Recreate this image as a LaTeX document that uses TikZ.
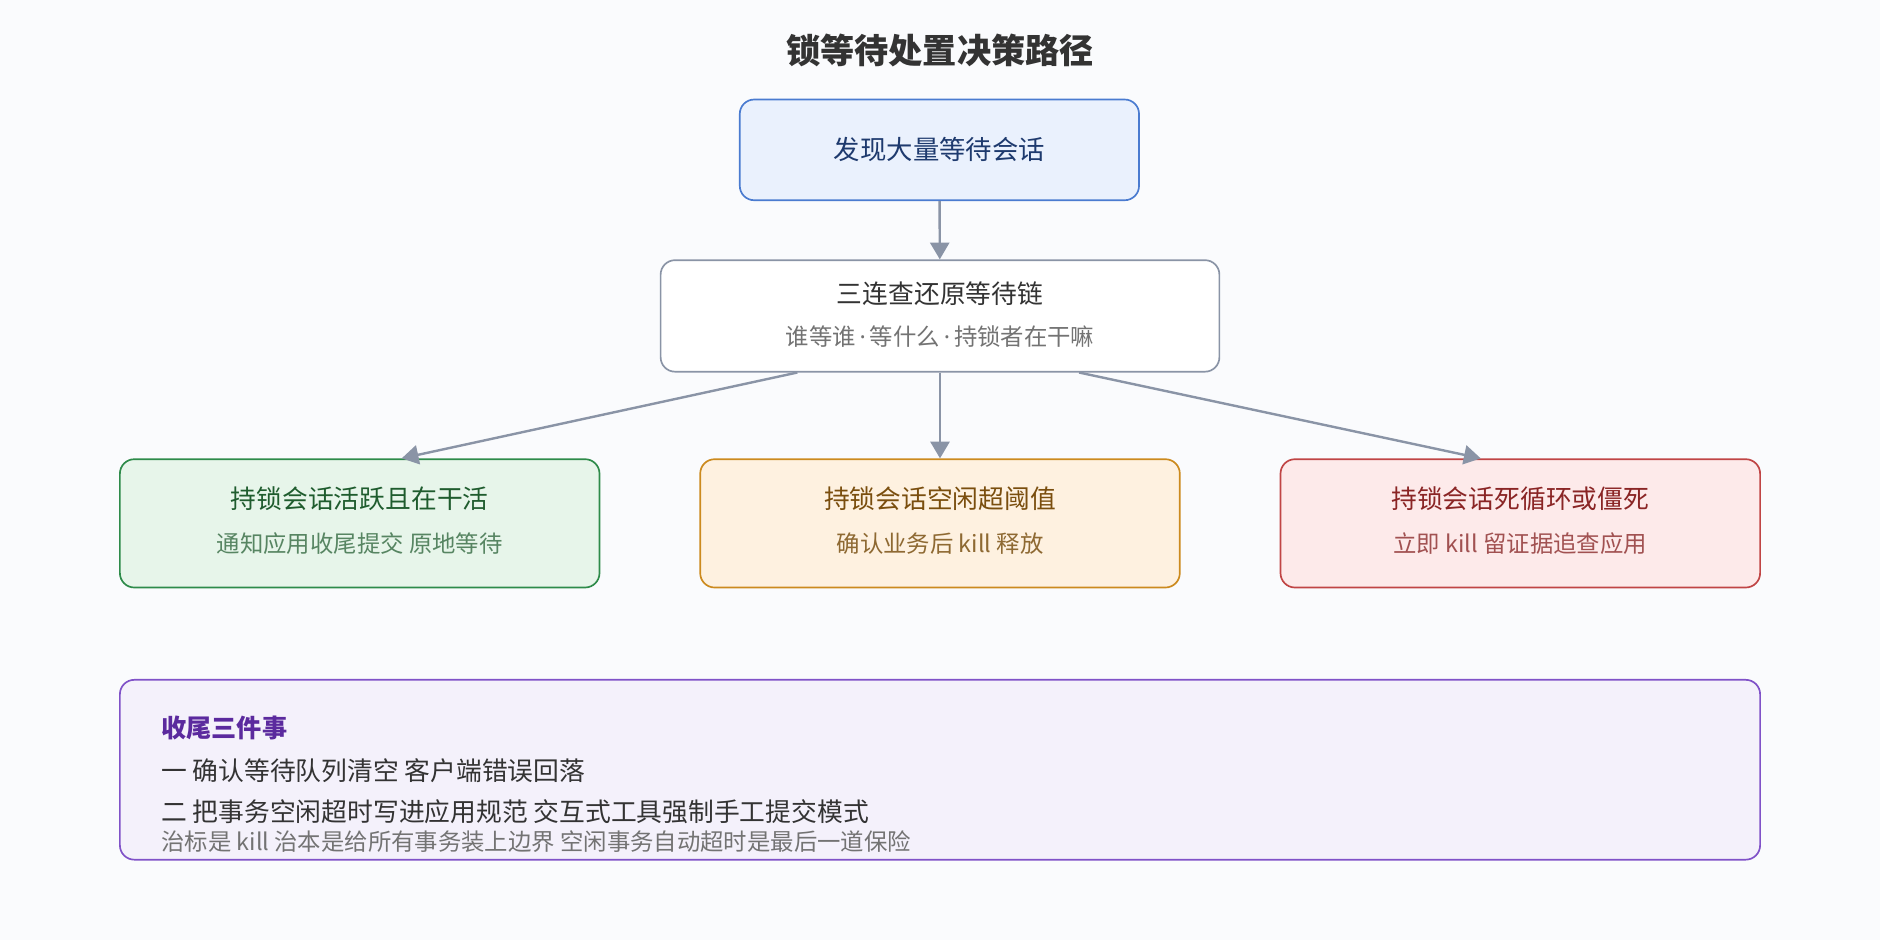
\documentclass[tikz,border=0pt]{standalone}
\usepackage{fontspec}
\setmainfont{Noto Sans CJK SC}
\newfontfamily\latinfont{Noto Sans}
\usetikzlibrary{arrows.meta,calc}
\definecolor{bgc}{HTML}{FAFBFD}
\definecolor{linec}{HTML}{8A94A6}
\definecolor{blueD}{HTML}{4A7BD0}
\definecolor{blueF}{HTML}{EAF1FD}
\definecolor{blueT}{HTML}{1E3A6E}
\definecolor{greenD}{HTML}{2E8B4A}
\definecolor{greenF}{HTML}{E7F5EA}
\definecolor{greenT}{HTML}{1F5C2E}
\definecolor{orangeD}{HTML}{CC8A1E}
\definecolor{orangeF}{HTML}{FEF1E0}
\definecolor{orangeT}{HTML}{7A4E0E}
\definecolor{redD}{HTML}{C04545}
\definecolor{redF}{HTML}{FDEAEA}
\definecolor{redT}{HTML}{8A2525}
\definecolor{violetD}{HTML}{8052C8}
\definecolor{violetF}{HTML}{F4F1FB}
\definecolor{violetT}{HTML}{5B2A9E}
\tikzset{
  box/.style={draw, rounded corners=12pt, line width=1.4pt, align=center, inner sep=0pt},
  head/.style={font=\fontsize{21.5}{25}\selectfont},
  sub/.style={font=\fontsize{19.5}{23}\selectfont, text=black!55},
  flow/.style={draw=linec, line width=2pt, -{Triangle[length=14pt,width=16pt]}}
}
\newcommand{\sep}{{\latinfont\,·\,}}
\begin{document}
\begin{tikzpicture}[x=1pt,y=-1pt]
	\fill[bgc] (0,0) rectangle (1568,784);
	\useasboundingbox (0,0) rectangle (1568,784);
	\node[font=\bfseries\fontsize{28.5}{32}\selectfont, text=black!80] (title) at (784,42) {锁等待处置决策路径};
	
	\node[box, draw=blueD, fill=blueF, minimum width=333pt, minimum height=84pt, text=blueT, font=\fontsize{22}{26}\selectfont] (found) at (783.5,125) {发现大量等待会话};
	
	\node[box, draw=linec, fill=white, minimum width=466pt, minimum height=93pt] (chain) at (784,263.5) {};
	\node[head, text=black!80] (chainT) at (784,245) {三连查还原等待链};
	\node[sub] (chainS) at (784,281) {谁等谁\sep 等什么\sep 持锁者在干嘛};
	
	% three outcomes
	\node[box, draw=greenD, fill=greenF, minimum width=400pt, minimum height=107pt] (busy) at (300,436.5) {};
	\node[head, text=greenT] at (300,416) {持锁会话活跃且在干活};
	\node[sub, text=greenT!75] at (300,453) {通知应用收尾提交 原地等待};
	
	\node[box, draw=orangeD, fill=orangeF, minimum width=400pt, minimum height=107pt] (idle) at (784,436.5) {};
	\node[head, text=orangeT] at (784,416) {持锁会话空闲超阈值};
	\node[sub, text=orangeT!85] at (784,453) {确认业务后 kill 释放};
	
	\node[box, draw=redD, fill=redF, minimum width=400pt, minimum height=107pt] (dead) at (1268,436.5) {};
	\node[head, text=redT] at (1268,416) {持锁会话死循环或僵死};
	\node[sub, text=redT!80] at (1268,453) {立即 kill 留证据追查应用};
	
	\draw[flow] (found) -- (chain);
	\draw[flow] ($(chain.south)+(-119,0)$) -- ($(busy.north)+(35,0)$);
	\draw[flow] (chain) -- (idle);
	\draw[flow] ($(chain.south)+(116,0)$) -- ($(dead.north)+(-33,0)$);
	
	% wrap-up
	\node[box, draw=violetD, fill=violetF, minimum width=1368pt, minimum height=150pt] (wrap) at (784,642) {};
	\node[anchor=west, font=\bfseries\fontsize{21}{25}\selectfont, text=violetT] at (131,607) {收尾三件事};
	\node[anchor=west, font=\fontsize{21.5}{25}\selectfont, text=black!80] at (131,643) {一 确认等待队列清空 客户端错误回落};
	\node[anchor=west, font=\fontsize{21.5}{25}\selectfont, text=black!80] at (131,677) {二 把事务空闲超时写进应用规范 交互式工具强制手工提交模式};
	\node[anchor=west, sub] at (131,702) {治标是 kill 治本是给所有事务装上边界 空闲事务自动超时是最后一道保险};
\end{tikzpicture}
\end{document}
